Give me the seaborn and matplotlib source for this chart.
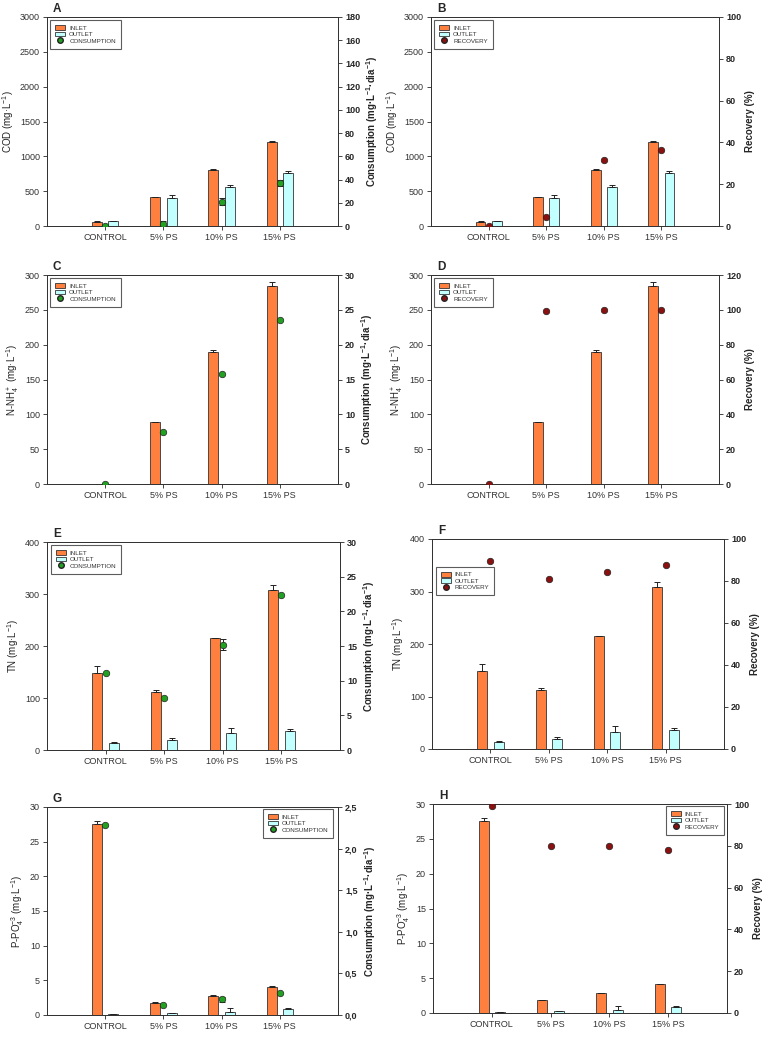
import numpy as np
import pandas as pd
import seaborn as sns
import matplotlib.pyplot as plt
from matplotlib.patches import Patch
from matplotlib.lines import Line2D
from matplotlib.ticker import MultipleLocator, FuncFormatter

# categories on the x axis
categories = ['CONTROL', '5% PS', '10% PS', '15% PS']

# COD (panels A and B)
cod_inlet = [60, 410, 810, 1210]
cod_inlet_err = [15, 10, 10, 10]
cod_outlet = [65, 400, 560, 760]
cod_outlet_err = [10, 50, 30, 35]
cod_consumption = [0, 1.7, 21, 37]
cod_consumption_err = [0, 3, 3, 2.5]
cod_recovery = [0, 4.5, 31.5, 36.5]

# N-NH4 (panels C and D)
nh4_inlet = [0, 89, 190, 284]
nh4_inlet_err = [0, 0, 2, 6]
nh4_outlet = [0, 0.6, 0.6, 0]
nh4_outlet_err = [0, 0, 0, 0]
nh4_consumption = [0, 7.5, 15.8, 23.6]
nh4_consumption_err = [0, 0, 0, 0]
nh4_recovery = [0, 99.5, 100, 100]

# TN (panels E and F)
tn_inlet = [149, 112, 215, 308]
tn_inlet_err = [13, 4, 0, 10]
tn_outlet = [14, 20, 33, 37]
tn_outlet_err = [2, 3, 10, 3]
tn_consumption = [11.1, 7.5, 15.2, 22.4]
tn_consumption_err = [0, 0, 0.8, 0]
tn_recovery = [89.5, 81, 84.5, 87.5]

# P-PO4 (panels G and H)
po4_inlet = [27.5, 1.8, 2.8, 4.1]
po4_inlet_err = [0.5, 0.1, 0.1, 0.1]
po4_outlet = [0.1, 0.25, 0.5, 0.85]
po4_outlet_err = [0.1, 0.1, 0.45, 0.15]
po4_consumption = [2.28, 0.12, 0.19, 0.27]
po4_consumption_err = [0, 0, 0.03, 0]
po4_recovery = [99, 80, 80, 78]

inlet_color = '#FF7F3E'
outlet_color = '#C2FFFF'
edge = '#333333'
green = '#22A022'
darkred = '#8B1010'

sns.set_style('ticks')
plt.rcParams['font.family'] = ['Liberation Sans', 'DejaVu Sans']
plt.rcParams['mathtext.default'] = 'regular'

W, H = 769, 1038
fig = plt.figure(figsize=(W / 100, H / 100), dpi=100)


def rect(left, right, top, bottom):
    return [left / W, 1 - bottom / H, (right - left) / W, (bottom - top) / H]


def draw_panel(box, letter, inlet, inlet_err, outlet, outlet_err, rvals, rerr, kind,
               ylabel, ylim, ystep, rlabel, rlim, rstep, leg_loc, leg_anchor, comma=False):
    ax = fig.add_axes(box)
    df = pd.DataFrame({'cat': categories * 2,
                       'value': inlet + outlet,
                       'stream': ['INLET'] * 4 + ['OUTLET'] * 4})
    sns.barplot(data=df, x='cat', y='value', hue='stream',
                palette=[inlet_color, outlet_color], saturation=1, width=0.56, gap=0.39,
                edgecolor=edge, linewidth=0.6, errorbar=None, legend=False, ax=ax)
    # one-sided error bars on top of the bars
    for cont, err in zip(ax.containers, [inlet_err, outlet_err]):
        xs = [b.get_x() + b.get_width() / 2 for b in cont]
        hs = [b.get_height() for b in cont]
        ax.errorbar(xs, hs, yerr=[np.zeros(len(err)), err], fmt='none',
                    ecolor='#222222', elinewidth=0.7, capsize=2.5, capthick=0.7)
    ax.set_ylim(*ylim)
    ax.yaxis.set_major_locator(MultipleLocator(ystep))
    ax.set_xlabel('')
    ax.set_ylabel(ylabel, fontsize=7, color='#222222', labelpad=3)
    ax.tick_params(axis='both', direction='out', length=3, width=0.6,
                   labelsize=6.5, labelcolor='#333333', pad=2)

    # second axis: consumption or recovery
    ax2 = ax.twinx()
    color = green if kind == 'CONSUMPTION' else darkred
    xpos = np.arange(len(categories))
    rerr = np.array(rerr)
    has_err = rerr > 0
    if has_err.any():
        ax2.errorbar(xpos[has_err], np.array(rvals)[has_err], yerr=rerr[has_err], fmt='none',
                     ecolor='#222222', elinewidth=0.7, capsize=2.5, capthick=0.7)
    sns.scatterplot(x=xpos, y=rvals, color=color, edgecolor='#222222', s=22,
                    linewidth=0.5, zorder=5, ax=ax2)
    ax2.set_ylim(*rlim)
    ax2.yaxis.set_major_locator(MultipleLocator(rstep))
    if comma:
        ax2.yaxis.set_major_formatter(FuncFormatter(lambda v, p: f'{v:.1f}'.replace('.', ',')))
    ax2.set_ylabel(rlabel, fontsize=7, fontweight='bold', labelpad=3)
    ax2.tick_params(axis='y', direction='out', length=3, width=0.6, labelsize=6.5, pad=2)
    for t in ax2.get_yticklabels():
        t.set_fontweight('bold')

    ax.set_xlim(-1, 4)
    ax.set_xticks(xpos)
    ax.set_xticklabels(categories, fontsize=6.5)
    for a in (ax, ax2):
        for s in a.spines.values():
            s.set_visible(True)
            s.set_linewidth(0.7)
            s.set_color('#333333')

    handles = [Patch(facecolor=inlet_color, edgecolor=edge, linewidth=0.6, label='INLET'),
               Patch(facecolor=outlet_color, edgecolor=edge, linewidth=0.6, label='OUTLET'),
               Line2D([], [], marker='o', linestyle='', markerfacecolor=color,
                      markeredgecolor='#222222', markersize=4, label=kind)]
    leg = ax2.legend(handles=handles, loc=leg_loc, bbox_to_anchor=leg_anchor, fontsize=4.5,
                     frameon=True, fancybox=False, handlelength=1.6, handleheight=0.8,
                     borderpad=0.8, labelspacing=0.15, handletextpad=0.6, borderaxespad=0)
    leg.get_frame().set_edgecolor('#333333')
    leg.get_frame().set_linewidth(0.8)
    for t in leg.get_texts():
        t.set_color('#333333')

    ax.text(0.02, 1.01, letter, transform=ax.transAxes, fontsize=8.5,
            fontweight='bold', va='bottom', ha='left')


cons_label = 'Consumption (mg·L$^{-1}$·dia$^{-1}$)'
rec_label = 'Recovery (%)'

draw_panel(rect(47, 338, 17, 226), 'A', cod_inlet, cod_inlet_err, cod_outlet, cod_outlet_err,
           cod_consumption, cod_consumption_err, 'CONSUMPTION', 'COD (mg·L$^{-1}$)',
           (0, 3000), 500, cons_label, (0, 180), 20, 'upper left', (0.012, 0.985))
draw_panel(rect(431, 719, 17, 226), 'B', cod_inlet, cod_inlet_err, cod_outlet, cod_outlet_err,
           cod_recovery, [0, 0, 0, 0], 'RECOVERY', 'COD (mg·L$^{-1}$)',
           (0, 3000), 500, rec_label, (0, 100), 20, 'upper left', (0.012, 0.985))
draw_panel(rect(47, 338, 275, 484), 'C', nh4_inlet, nh4_inlet_err, nh4_outlet, nh4_outlet_err,
           nh4_consumption, nh4_consumption_err, 'CONSUMPTION', 'N-NH$_4^+$ (mg·L$^{-1}$)',
           (0, 300), 50, cons_label, (0, 30), 5, 'upper left', (0.012, 0.985))
draw_panel(rect(431, 719, 275, 484), 'D', nh4_inlet, nh4_inlet_err, nh4_outlet, nh4_outlet_err,
           nh4_recovery, [0, 0, 0, 0], 'RECOVERY', 'N-NH$_4^+$ (mg·L$^{-1}$)',
           (0, 300), 50, rec_label, (0, 120), 20, 'upper left', (0.012, 0.985))
draw_panel(rect(47, 340, 542, 750), 'E', tn_inlet, tn_inlet_err, tn_outlet, tn_outlet_err,
           tn_consumption, tn_consumption_err, 'CONSUMPTION', 'TN (mg·L$^{-1}$)',
           (0, 400), 100, cons_label, (0, 30), 5, 'upper left', (0.012, 0.985))
draw_panel(rect(432, 724, 539, 749), 'F', tn_inlet, tn_inlet_err, tn_outlet, tn_outlet_err,
           tn_recovery, [0, 0, 0, 0], 'RECOVERY', 'TN (mg·L$^{-1}$)',
           (0, 400), 100, rec_label, (0, 100), 20, 'upper left', (0.014, 0.867))
draw_panel(rect(47, 338, 807, 1015), 'G', po4_inlet, po4_inlet_err, po4_outlet, po4_outlet_err,
           po4_consumption, po4_consumption_err, 'CONSUMPTION', 'P-PO$_4^{-3}$ (mg·L$^{-1}$)',
           (0, 30), 5, cons_label, (0, 2.5), 0.5, 'upper right', (0.983, 0.99), comma=True)
draw_panel(rect(433, 727, 804, 1013), 'H', po4_inlet, po4_inlet_err, po4_outlet, po4_outlet_err,
           po4_recovery, [0, 0, 0, 0], 'RECOVERY', 'P-PO$_4^{-3}$ (mg·L$^{-1}$)',
           (0, 30), 5, rec_label, (0, 100), 20, 'upper right', (0.99, 0.99))

plt.savefig('out.png', dpi=100)
